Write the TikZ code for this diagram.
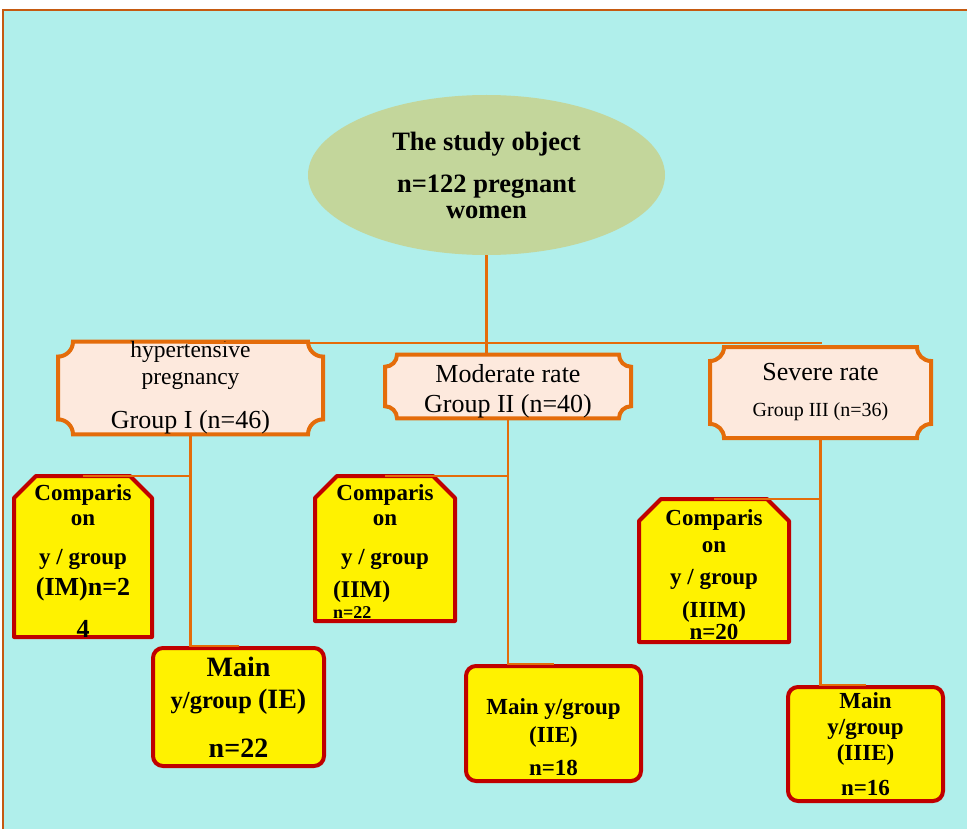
\documentclass[tikz,border=0pt]{standalone}
\usepackage{fontspec}
\setmainfont{Liberation Serif}
\usetikzlibrary{shapes.geometric}
\definecolor{sea}{RGB}{176,239,235}
\definecolor{frame}{RGB}{197,90,17}
\definecolor{wirecol}{RGB}{228,108,10}
\definecolor{olive}{RGB}{195,214,155}
\definecolor{peach}{RGB}{253,233,221}
\definecolor{dkred}{RGB}{192,0,0}
\pgfdeclarelayer{back}
\pgfdeclarelayer{mid}
\pgfsetlayers{back,mid,main}

% frame with hollow corners round a node
\newcommand{\plaque}[2]{%
\draw[plaqueline] ([yshift=-#2]#1.north west) arc[start angle=-90,delta angle=90,radius=#2]
 -- ([xshift=-#2]#1.north east) arc[start angle=180,delta angle=90,radius=#2]
 -- ([yshift=#2]#1.south east) arc[start angle=90,delta angle=90,radius=#2]
 -- ([xshift=#2]#1.south west) arc[start angle=0,delta angle=90,radius=#2] -- cycle;}
% box with the two top corners cut off
\newcommand{\chamfer}[2]{%
\draw[cmpline] (#1.south west) -- ([yshift=-#2]#1.north west) -- ([xshift=#2]#1.north west)
 -- ([xshift=-#2]#1.north east) -- ([yshift=-#2]#1.north east) -- (#1.south east) -- cycle;}

\begin{document}
\begin{tikzpicture}[x=1pt,y=1pt,
  oval/.style={ellipse,fill=olive,inner sep=0pt,align=center,
    minimum width=357,minimum height=160,font=\bfseries\fontsize{26.5}{26}\selectfont},
  grp/.style={inner sep=0pt,outer sep=0pt,align=center},
  plaqueline/.style={draw=wirecol,fill=peach,line width=4pt},
  cmp/.style={inner sep=0pt,outer sep=0pt,align=center,font=\bfseries\fontsize{23}{25}\selectfont},
  cmpline/.style={draw=dkred,fill=yellow,line width=4pt,line join=round},
  mainbox/.style={rectangle,rounded corners=10pt,draw=dkred,fill=yellow,line width=4pt,
    inner sep=0pt,align=center,font=\bfseries\fontsize{23}{25}\selectfont},
  wire/.style={draw=wirecol,line width=2.5pt}]
\useasboundingbox (0,0) rectangle (967,-829);
\begin{pgfonlayer}{back}
\fill[sea] (3,-10) rectangle (967,-829);
\draw[frame,line width=1.5pt] (3,-829) -- (3,-10) -- (967,-10);
\end{pgfonlayer}

\node[oval] (obj) at (486.5,-175) {The study object\\[16pt]n=122 pregnant\\women};

% groups
\node[grp,minimum width=265,minimum height=90,font=\fontsize{23.5}{27}\selectfont] (g1) at (190.5,-388)
  {hypertensive\\pregnancy\\[17pt]{\fontsize{26}{27}\selectfont Group I (n=46)}};
\node[grp,minimum width=246,minimum height=63,font=\fontsize{26}{30}\selectfont] (g2) at (508,-386.5)
  {\rule{0pt}{28pt}Moderate rate\\Group II (n=40)};
\node[grp,minimum width=221,minimum height=91,font=\fontsize{26}{30}\selectfont] (g3) at (820.5,-392.5)
  {Severe rate\\[6pt]{\fontsize{20}{30}\selectfont Group III (n=36)}};
\begin{pgfonlayer}{mid}
\plaque{g1}{15pt}
\plaque{g2}{12pt}
\plaque{g3}{14pt}
\end{pgfonlayer}

% comparison subgroups
\node[cmp,minimum width=138,minimum height=155] (c1) at (83,-556.5)
  {\rule{0pt}{24pt}Comparis\\on\\[14pt]y / group\\[6pt]{\fontsize{26}{25}\selectfont (IM)n=2}\\[17pt]{\fontsize{26}{25}\selectfont 4}};
\node[cmp,minimum width=140,minimum height=145] (c2) at (385,-548.5)
  {\rule{0pt}{22pt}Comparis\\on\\[14pt]y / group\\[8pt]\makebox[104pt][l]{\fontsize{24}{25}\selectfont (IIM)}\\[-4pt]\makebox[104pt][l]{\fontsize{18}{25}\selectfont n=22}};
\node[cmp,minimum width=150,minimum height=143] (c3) at (714,-570.5)
  {\rule{0pt}{25pt}Comparis\\[2pt]on\\[7pt]y / group\\[8pt](IIIM)\\[-3pt]n=20};
\begin{pgfonlayer}{mid}
\chamfer{c1}{22pt}
\chamfer{c2}{22pt}
\chamfer{c3}{22pt}
\end{pgfonlayer}

% main subgroups
\node[mainbox,minimum width=171,minimum height=118,font=\bfseries\fontsize{24.5}{25}\selectfont] (m1) at (238.5,-707)
  {{\fontsize{28}{25}\selectfont Main}\\[7pt]y/group {\fontsize{28}{25}\selectfont (IE)}\\[24pt]{\fontsize{28}{25}\selectfont n=22}};
\node[mainbox,minimum width=175,minimum height=115] (m2) at (553.5,-723.5)
  {\rule{0pt}{44pt}Main y/group\\[3pt](IIE)\\[8pt]n=18};
\node[mainbox,minimum width=155,minimum height=114] (m3) at (865.5,-744)
  {Main\\[1pt]y/group\\[1pt](IIIE)\\[10pt]n=16};

% connectors
\coordinate (busL) at (188,-343);
\coordinate (busR) at (822,-343);
\draw[wire] (busL) -- (busR);
\draw[wire] (obj.south) -- (obj.south |- g2.north) -- (g2.north);
\draw[wire] (g1.south) -- (g1.south |- m1.north) -- (m1.north);
\draw[wire] (c1.north) -- (c1.north -| g1.south);
\draw[wire] (g2.south) -- (g2.south |- m2.north) -- (m2.north);
\draw[wire] (c2.north) -- (c2.north -| g2.south);
\draw[wire] (g3.south) -- (g3.south |- m3.north) -- (m3.north);
\draw[wire] (c3.north) -- (c3.north -| g3.south);
\end{tikzpicture}
\end{document}
